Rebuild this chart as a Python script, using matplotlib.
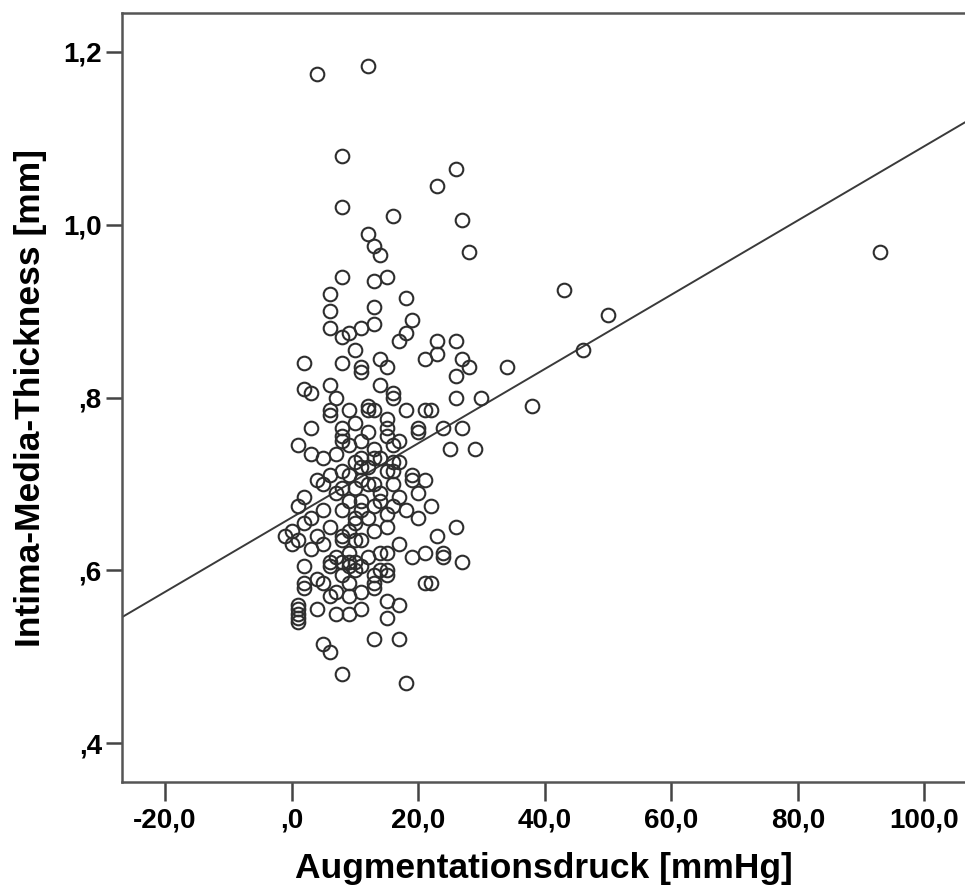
import numpy as np
import matplotlib.pyplot as plt

plt.rcParams["font.family"] = ["Liberation Sans", "DejaVu Sans"]

# Augmentationsdruck [mmHg] vs. IMT [mm], one entry per subject
aug_pressure = [
    4, 12, 8, 8, 23, 26, 27, 28, 16, 12, 13, 14, 8, 13, 15, 6, 18, 6, 13, 19,
    6, 11, 13, 18, 9, 8, 17, 23, 26, 10, 23, 21, 27, 14, 2, 8, 11, 11, 15, 28,
    34, 26, 43, 50, 46, 93, 14, 6, 2, 3, 16, 16, 26, 30, 7, 9, 6, 6, 12, 12,
    13, 18, 21, 22, 38, 15, 10, 8, 15, 24, 27, 20, 20, 3, 12, 8, 8, 15, 11, 17,
    1, 9, 16, 3, 25, 29, 13, 7, 5, 11, 13, 14, 17, 16, 10, 12, 8, 15, 6, 9,
    19, 19, 21, 11, 4, 13, 16, 8, 10, 14, 20, 17, 9, 11, 2, 13, 16, 22, 1, 5,
    8, 11, 18, 15, 10, 12, 20, 2, 6, 15, 26, 9, 13, 0, 4, 8, 8, 23, -1, 1,
    10, 11, 17, 0, 5, 3, 14, 15, 21, 24, 24, 19, 12, 7, 9, 6, 6, 8, 10, 2,
    11, 27, 9, 15, 10, 15, 8, 4, 13, 2, 2, 5, 9, 13, 13, 21, 22, 7, 11, 6,
    9, 15, 17, 4, 7, 9, 11, 15, 1, 1, 1, 1, 1, 13, 17, 5, 6, 8, 18,
    12, 14, 7, 10, 16, 9, 5, 3, 11, 14,
]
imt = [
    1.174, 1.184, 1.079, 1.020, 1.045, 1.065, 1.005, 0.969, 1.010, 0.989,
    0.975, 0.965, 0.940, 0.935, 0.940, 0.920, 0.915, 0.900, 0.905, 0.890,
    0.880, 0.880, 0.885, 0.875, 0.875, 0.870, 0.865, 0.865, 0.865, 0.855,
    0.850, 0.845, 0.845, 0.845, 0.840, 0.840, 0.835, 0.830, 0.835, 0.835,
    0.835, 0.825, 0.925, 0.895, 0.855, 0.969, 0.815, 0.815, 0.810, 0.805,
    0.805, 0.800, 0.800, 0.800, 0.800, 0.785, 0.785, 0.780, 0.790, 0.785,
    0.785, 0.785, 0.785, 0.785, 0.790, 0.775, 0.770, 0.765, 0.765, 0.765,
    0.765, 0.765, 0.760, 0.765, 0.760, 0.755, 0.750, 0.755, 0.750, 0.750,
    0.745, 0.745, 0.745, 0.735, 0.740, 0.740, 0.740, 0.735, 0.730, 0.730,
    0.730, 0.730, 0.725, 0.725, 0.725, 0.720, 0.715, 0.715, 0.710, 0.710,
    0.710, 0.705, 0.705, 0.705, 0.705, 0.700, 0.700, 0.695, 0.695, 0.690,
    0.690, 0.685, 0.680, 0.680, 0.685, 0.675, 0.675, 0.675, 0.675, 0.670,
    0.670, 0.670, 0.670, 0.665, 0.660, 0.660, 0.660, 0.655, 0.650, 0.650,
    0.650, 0.645, 0.645, 0.645, 0.640, 0.640, 0.635, 0.640, 0.640, 0.635,
    0.635, 0.635, 0.630, 0.630, 0.630, 0.625, 0.620, 0.620, 0.620, 0.620,
    0.615, 0.615, 0.615, 0.615, 0.610, 0.610, 0.605, 0.610, 0.610, 0.605,
    0.605, 0.610, 0.605, 0.600, 0.600, 0.595, 0.595, 0.590, 0.595, 0.585,
    0.580, 0.585, 0.585, 0.585, 0.580, 0.585, 0.585, 0.575, 0.575, 0.570,
    0.570, 0.565, 0.560, 0.555, 0.550, 0.550, 0.555, 0.545, 0.560, 0.555,
    0.550, 0.545, 0.540, 0.520, 0.520, 0.515, 0.505, 0.480, 0.470,
    0.700, 0.680, 0.690, 0.655, 0.715, 0.620, 0.700, 0.660, 0.720, 0.600,
]

# linear fit line
fit_intercept = 0.661
fit_slope = 0.0043

x_ticks = [-20, 0, 20, 40, 60, 80, 100]
x_tick_labels = ["-20,0", ",0", "20,0", "40,0", "60,0", "80,0", "100,0"]
y_ticks = [0.4, 0.6, 0.8, 1.0, 1.2]
y_tick_labels = [",4", ",6", ",8", "1,0", "1,2"]

fig = plt.figure(figsize=(9.65, 8.93), dpi=100)
ax = fig.add_axes([0.1264, 0.1243, 0.8736, 0.8611])

xlim = (-26.8, 106.4)
ax.set_xlim(*xlim)
ax.set_ylim(0.355, 1.245)

line_x = np.array(xlim)
ax.plot(line_x, fit_intercept + fit_slope * line_x, color="#3a3a3a", lw=1.4, zorder=2)

ax.plot(aug_pressure, imt, linestyle="none", marker="o", markersize=9.8,
        markerfacecolor="none", markeredgecolor="#2e2e2e", markeredgewidth=1.5,
        zorder=3)

for side in ["left", "bottom", "top"]:
    ax.spines[side].set_color("#555555")
    ax.spines[side].set_linewidth(1.8)
ax.spines["right"].set_visible(False)

ax.set_xticks(x_ticks)
ax.set_xticklabels(x_tick_labels)
ax.set_yticks(y_ticks)
ax.set_yticklabels(y_tick_labels)
ax.tick_params(axis="both", direction="out", colors="#444444", width=1.8,
               labelcolor="black", labelsize=20)
ax.tick_params(axis="x", length=14, pad=4)
ax.tick_params(axis="y", length=11.5, pad=3)
for lbl in ax.get_xticklabels() + ax.get_yticklabels():
    lbl.set_fontweight("bold")

ax.set_xlabel("Augmentationsdruck [mmHg]", fontsize=25.5, fontweight="bold", labelpad=14)
ax.set_ylabel("Intima-Media-Thickness [mm]", fontsize=25.5, fontweight="bold", labelpad=12)

fig.savefig("out.png", dpi=100)
